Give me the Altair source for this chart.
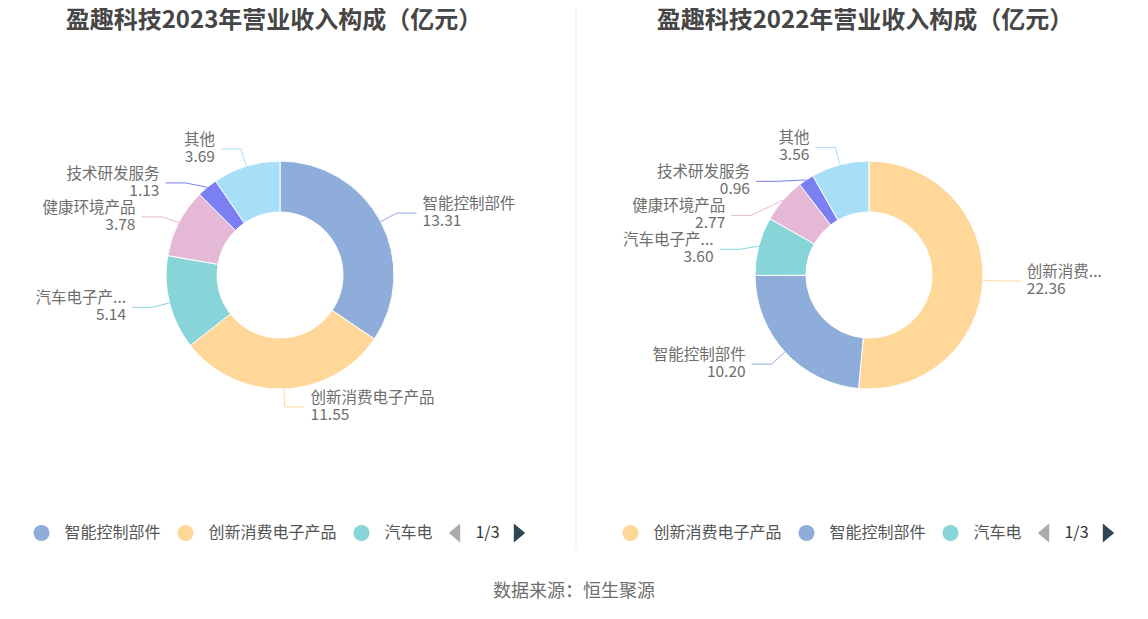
import altair as alt
import pandas as pd

# ---------------- data ----------------
categories_2023 = ["智能控制部件", "创新消费电子产品", "汽车电子产品", "健康环境产品", "技术研发服务", "其他"]
values_2023 = [13.31, 11.55, 5.14, 3.78, 1.13, 3.69]
labels_2023 = ["智能控制部件", "创新消费电子产品", "汽车电子产...", "健康环境产品", "技术研发服务", "其他"]

categories_2022 = ["创新消费电子产品", "智能控制部件", "汽车电子产品", "健康环境产品", "技术研发服务", "其他"]
values_2022 = [22.36, 10.20, 3.60, 2.77, 0.96, 3.56]
labels_2022 = ["创新消费...", "智能控制部件", "汽车电子产...", "健康环境产品", "技术研发服务", "其他"]

legend_2023 = ["智能控制部件", "创新消费电子产品", "汽车电"]
legend_2022 = ["创新消费电子产品", "智能控制部件", "汽车电"]

titles = ["盈趣科技2023年营业收入构成（亿元）", "盈趣科技2022年营业收入构成（亿元）"]
source_text = "数据来源：恒生聚源"
pager_text = "1/3"

color_domain = ["智能控制部件", "创新消费电子产品", "汽车电子产品", "健康环境产品", "技术研发服务", "其他"]
color_range = ["#8FADDB", "#FFD899", "#88D5D9", "#E6B8D7", "#7A7FF2", "#A8DFF8"]

# ---------------- layout ----------------
W, H = 1132, 603
FONT = "Noto Sans CJK SC"
PANEL_CX = {"2023": 280, "2022": 869}
CY = 275
R_OUT, R_IN, R_ELBOW = 114, 63, 132
GAP, LEN2, TXT_OFF = 34, 20, 6
LEGEND_Y = 533
TITLE_Y = 21
SOURCE_Y = 592

xs = alt.Scale(domain=[8, 8 + W], range=[0, W])
ys = alt.Scale(domain=[8, 8 + H], range=[0, H])


def X(f):
    return alt.X(f"{f}:Q", scale=xs, axis=None)


def Y(f):
    return alt.Y(f"{f}:Q", scale=ys, axis=None)


color = alt.Color("cat:N", scale=alt.Scale(domain=color_domain, range=color_range), legend=None)

rows = []
for panel, cats, vals, labs in [("2023", categories_2023, values_2023, labels_2023),
                                ("2022", categories_2022, values_2022, labels_2022)]:
    for i, (c, v, l) in enumerate(zip(cats, vals, labs)):
        rows.append({"panel": panel, "ord": i, "cat": c, "value": v, "label": l,
                     "cx": PANEL_CX[panel], "cy": CY})
main_df = pd.DataFrame(rows)

base = (
    alt.Chart(main_df)
    .transform_window(cum="sum(value)", groupby=["panel"], sort=[alt.SortField("ord")], frame=[None, 0])
    .transform_joinaggregate(total="sum(value)", groupby=["panel"])
    .transform_calculate(
        a0="(datum.cum - datum.value) / datum.total * 2 * PI",
        a1="datum.cum / datum.total * 2 * PI",
    )
    .transform_calculate(mid="(datum.a0 + datum.a1) / 2")
    .transform_calculate(
        sx=f"datum.cx + {R_OUT} * sin(datum.mid)",
        sy=f"datum.cy - {R_OUT} * cos(datum.mid)",
        side="sin(datum.mid) < 0 ? -1 : 1",
        ny=f"datum.cy - {R_ELBOW} * cos(datum.mid)",
    )
    .transform_window(rk="row_number()", groupby=["panel", "side"], sort=[alt.SortField("ny")])
    .transform_calculate(z=f"datum.ny - datum.rk * {GAP}")
    .transform_window(zm="max(z)", groupby=["panel", "side"], sort=[alt.SortField("ny")], frame=[None, 0])
    .transform_calculate(ay=f"datum.zm + datum.rk * {GAP}")
    .transform_calculate(
        ex=f"datum.cx + datum.side * sqrt(max(0, {R_ELBOW * R_ELBOW} - (datum.ay - datum.cy) * (datum.ay - datum.cy)))"
    )
    .transform_calculate(lx=f"datum.ex + datum.side * {LEN2}")
    .transform_calculate(tx=f"datum.lx + datum.side * {TXT_OFF}")
)

arcs = base.mark_arc(radius=R_OUT, radius2=R_IN, stroke="white", strokeWidth=1).encode(
    x=X("cx"), y=Y("cy"),
    theta=alt.Theta("a0:Q", scale=None),
    theta2=alt.Theta2("a1:Q"),
    color=color,
)

seg1 = base.mark_rule(strokeWidth=1).encode(
    x=X("sx"), y=Y("sy"), x2=alt.X2("ex:Q"), y2=alt.Y2("ay:Q"), color=color
)
seg2 = base.mark_rule(strokeWidth=1).encode(
    x=X("ex"), y=Y("ay"), x2=alt.X2("lx:Q"), y2=alt.Y2("ay:Q"), color=color
)

text_layers = []
for s, align in [(1, "left"), (-1, "right")]:
    sub = base.transform_filter(f"datum.side == {s}")
    text_layers.append(
        sub.mark_text(align=align, baseline="middle", dy=-9, font=FONT, fontSize=15.5, color="#6E6E6E").encode(
            x=X("tx"), y=Y("ay"), text="label:N"
        )
    )
    text_layers.append(
        sub.mark_text(align=align, baseline="middle", dy=8, font=FONT, fontSize=15.5, color="#6E6E6E").encode(
            x=X("tx"), y=Y("ay"), text=alt.Text("value:Q", format=".2f")
        )
    )

# titles
title_df = pd.DataFrame({
    "text": titles,
    "x": [PANEL_CX["2023"] - 6, PANEL_CX["2022"] - 4],
    "y": [TITLE_Y, TITLE_Y],
})
title_layer = alt.Chart(title_df).mark_text(
    font=FONT, fontSize=24, fontWeight="bold", color="#464646", baseline="middle", align="center"
).encode(x=X("x"), y=Y("y"), text="text:N")

# divider
div_df = pd.DataFrame({"x": [576], "y": [8], "y2": [548]})
divider = alt.Chart(div_df).mark_rule(color="#EBEBEB", strokeWidth=1).encode(
    x=X("x"), y=Y("y"), y2=alt.Y2("y2:Q")
)

# source
src_df = pd.DataFrame({"text": [source_text], "x": [574], "y": [SOURCE_Y]})
source_layer = alt.Chart(src_df).mark_text(
    font=FONT, fontSize=18, color="#6E6E6E", baseline="middle", align="center"
).encode(x=X("x"), y=Y("y"), text="text:N")

# custom legends
lrows = []
for panel, cats, labs in [("2023", categories_2023, legend_2023), ("2022", categories_2022, legend_2022)]:
    for i, l in enumerate(labs):
        lrows.append({"panel": panel, "idx": i, "cat": cats[i], "label": l,
                      "cx": PANEL_CX[panel], "ly": LEGEND_Y})
leg_df = pd.DataFrame(lrows)

leg_base = (
    alt.Chart(leg_df)
    .transform_calculate(w="31 + length(datum.label) * 16 + 17")
    .transform_window(cumw="sum(w)", groupby=["panel"], sort=[alt.SortField("idx")], frame=[None, 0])
    .transform_joinaggregate(tot="sum(w)", groupby=["panel"])
    .transform_calculate(start="datum.cx - (datum.tot + 77) / 2 + datum.cumw - datum.w")
    .transform_calculate(
        dotx="datum.start + 8",
        labx="datum.start + 31",
        p1="datum.start + datum.w + 5",
        pt="datum.start + datum.w + 38",
        p2="datum.start + datum.w + 70",
    )
)

leg_dots = leg_base.mark_circle(size=256, opacity=1).encode(x=X("dotx"), y=Y("ly"), color=color)
leg_text = leg_base.mark_text(
    align="left", baseline="middle", font=FONT, fontSize=16, color="#555555"
).encode(x=X("labx"), y=Y("ly"), text="label:N")

pager = leg_base.transform_filter("datum.idx == 2")
pager_left = pager.mark_point(
    shape="M 0.6 -1 L -0.6 0 L 0.6 1 Z", size=361, filled=True, color="#AAAAAA", opacity=1
).encode(x=X("p1"), y=Y("ly"))
pager_right = pager.mark_point(
    shape="M -0.6 -1 L 0.6 0 L -0.6 1 Z", size=361, filled=True, color="#2F4554", opacity=1
).encode(x=X("p2"), y=Y("ly"))
pager_txt = pager.transform_calculate(pt_text=f"'{pager_text}'").mark_text(
    align="center", baseline="middle", font=FONT, fontSize=16, color="#333333"
).encode(x=X("pt"), y=Y("ly"), text="pt_text:N")

chart = alt.layer(
    divider, arcs, seg1, seg2, *text_layers, title_layer, source_layer,
    leg_dots, leg_text, pager_left, pager_right, pager_txt,
).properties(
    width=W, height=H, padding=0, autosize=alt.AutoSizeParams(type="none"), background="white"
).configure_view(strokeWidth=0)

chart.save("out.html", embed_options={"renderer": "svg", "actions": False})
